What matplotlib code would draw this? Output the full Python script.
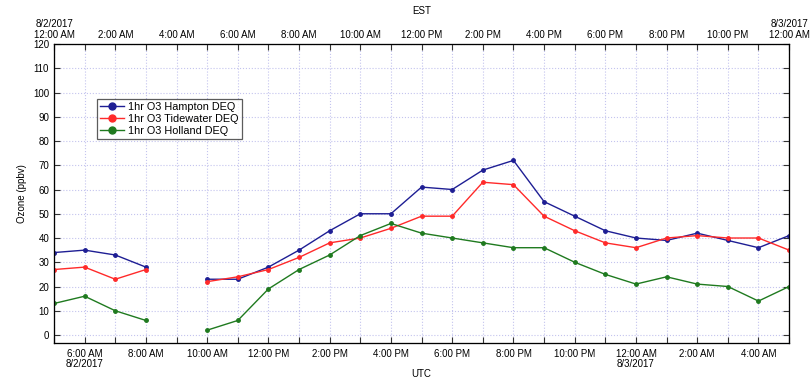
import numpy as np
import matplotlib.pyplot as plt

plt.rcParams['font.family'] = ['Liberation Sans', 'DejaVu Sans']

# hours UTC counted from 8/2/2017 00:00 (5 = 5:00 AM UTC = 12:00 AM EST)
hours = list(range(5, 30))
hampton = [34, 35, 33, 28, None, 23, 23, 28, 35, 43, 50, 50, 61, 60, 68, 72,
           55, 49, 43, 40, 39, 42, 39, 36, 41]
tidewater = [27, 28, 23, 27, None, 22, 24, 27, 32, 38, 40, 44, 49, 49, 63, 62,
             49, 43, 38, 36, 40, 41, 40, 40, 35]
holland = [13, 16, 10, 6, None, 2, 6, 19, 27, 33, 41, 46, 42, 40, 38, 36,
           36, 30, 25, 21, 24, 21, 20, 14, 20]

utc_ticks = [6, 8, 10, 12, 14, 16, 18, 20, 22, 24, 26, 28]
utc_labels = ['6:00 AM\n8/2/2017', '8:00 AM', '10:00 AM', '12:00 PM', '2:00 PM',
              '4:00 PM', '6:00 PM', '8:00 PM', '10:00 PM', '12:00 AM\n8/3/2017',
              '2:00 AM', '4:00 AM']
est_ticks = [5, 7, 9, 11, 13, 15, 17, 19, 21, 23, 25, 27, 29]
est_labels = ['8/2/2017\n12:00 AM', '2:00 AM', '4:00 AM', '6:00 AM', '8:00 AM',
              '10:00 AM', '12:00 PM', '2:00 PM', '4:00 PM', '6:00 PM', '8:00 PM',
              '10:00 PM', '8/3/2017\n12:00 AM']

series = [('1hr O3 Hampton DEQ', hampton, '#1e1e94'),
          ('1hr O3 Tidewater DEQ', tidewater, '#ff2a2a'),
          ('1hr O3 Holland DEQ', holland, '#1f7a1f')]

fig = plt.figure(figsize=(8.11, 3.81), dpi=100)
ax = fig.add_axes([0.0666, 0.0997, 0.9064, 0.7848])

for name, vals, col in series:
    y = np.array([np.nan if v is None else v for v in vals], dtype=float)
    ax.plot(hours, y, color=col, lw=1.0, marker='o', ms=2.5, label=name)

ax.set_xlim(5, 29)
ax.set_ylim(-3.3, 120)
ax.set_yticks(np.arange(0, 121, 10))
ax.set_xticks(utc_ticks)
ax.set_xticklabels(utc_labels, va='top', linespacing=1.05)
ax.set_xticks(range(5, 30), minor=True)
ax.grid(True, which='both', color='#c4c4ee', ls=':', lw=0.8)
ax.tick_params(which='both', direction='in', labelsize=7, top=False, right=True,
               length=4, width=0.8, color='#333333')
ax.tick_params(axis='x', pad=4)
ax.set_ylabel('Ozone (ppbv)', fontsize=7)
ax.set_xlabel('UTC', fontsize=7, va='center')
ax.xaxis.set_label_coords(0.5, -0.104)
for s in ax.spines.values():
    s.set_color('#333333')
    s.set_linewidth(0.9)

top = ax.twiny()
top.set_xlim(ax.get_xlim())
top.set_xticks(est_ticks)
top.set_xticklabels(est_labels, linespacing=1.05)
top.set_xticks(range(5, 30), minor=True)
top.tick_params(which='both', direction='in', labelsize=7, length=4, width=0.8,
                color='#333333', pad=3)
top.set_xlabel('EST', fontsize=7, labelpad=4)

leg = ax.legend(loc='upper left', bbox_to_anchor=(0.0585, 0.816), fontsize=7.8,
                frameon=True, fancybox=False, edgecolor='#333333',
                markerscale=2, handlelength=2.2, borderpad=0.3, borderaxespad=0,
                labelspacing=0.15, handletextpad=0.4)
leg.get_frame().set_linewidth(0.9)

fig.savefig('out.png', dpi=100)
